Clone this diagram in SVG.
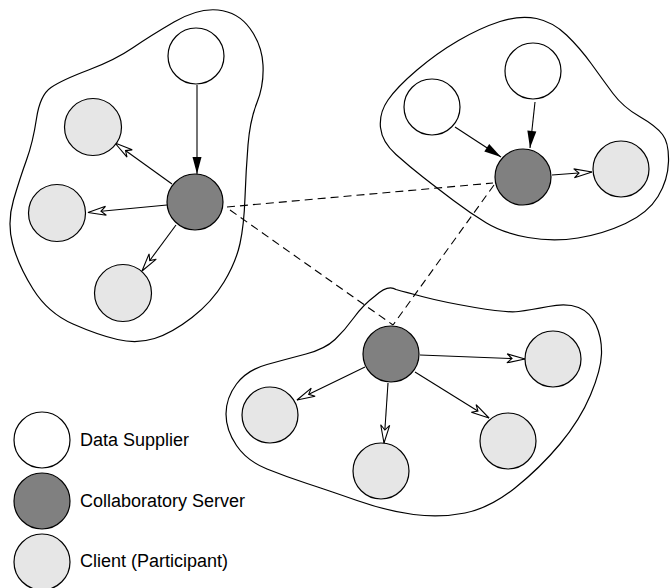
<svg xmlns="http://www.w3.org/2000/svg" width="670" height="588" viewBox="0 0 670 588">
<style>
.blob{fill:none;stroke:#000;stroke-width:1.2}
.sup{fill:#fff;stroke:#000;stroke-width:1.2}
.srv{fill:#808080;stroke:#000;stroke-width:1.2}
.cli{fill:#e6e6e6;stroke:#000;stroke-width:1.2}
.e{stroke:#000;stroke-width:1.1;fill:none}
.ef{marker-end:url(#fa)}
.eo{marker-end:url(#oa)}
.d{stroke:#000;stroke-width:1.1;stroke-dasharray:8,5;fill:none}
text{font-family:"Liberation Sans",Arial,sans-serif;font-size:18px;fill:#000}
</style>
<defs>
<marker id="fa" markerUnits="userSpaceOnUse" markerWidth="20" markerHeight="12" refX="17" refY="4.5" orient="auto" overflow="visible"><path d="M0,0 L17,4.5 L0,9 Z" fill="#000"/></marker>
<marker id="oa" markerUnits="userSpaceOnUse" markerWidth="20" markerHeight="12" refX="18" refY="4.5" orient="auto" overflow="visible"><path d="M0,0 L18,4.5 L0,9 L5,4.5 Z" fill="#fff" stroke="#000" stroke-width="1.1"/></marker>
</defs>

<g id="cluster-left"><path class="blob" d="M36.5,118.5 Q40,95 51,87.5 Q62,80 88.5,70 Q115,60 132.5,48 Q150,36 174,22 Q198,8 218,10 Q238,12 250,28.5 Q262,45 263,65 Q264,85 257,102.5 Q250,120 248,145 Q246,170 245,197.5 Q244,225 240,243.5 Q236,262 224,282 Q212,302 192,317.5 Q172,333 154.5,338.5 Q137,344 117.5,339.5 Q98,335 73,324 Q48,313 33,289 Q18,265 12.5,243.5 Q7,222 13.5,200 Q20,178 26.5,160 Q33,142 36.5,118.5 Z"/></g>
<g id="cluster-right"><path class="blob" d="M536.5,18.5 Q520,15 500,21.5 Q480,28 458.5,40.5 Q437,53 417,70 Q397,87 388,100 Q379,113 380.5,127.5 Q382,142 396,154.5 Q410,167 423.5,177.5 Q437,188 453.5,200.5 Q470,213 486.5,223 Q503,233 528,237.5 Q553,242 578,238 Q603,234 625.5,223.5 Q648,213 658,196.5 Q668,180 668.5,161.5 Q669,143 662.5,134.5 Q656,126 639.5,116.5 Q623,107 613,93.5 Q603,80 591.5,64 Q580,48 566.5,35 Q553,22 536.5,18.5 Z"/></g>
<g id="cluster-bottom"><path class="blob" d="M396,289.5 Q388,284 375,296 Q363,305 354,317.5 Q345,330 335,339.5 Q325,349 306,354 Q287,359 267,364.5 Q247,370 236.5,384 Q226,398 226,414 Q226,430 236.5,445.5 Q247,461 267,469 Q287,477 307,483.5 Q327,490 357,500.5 Q387,511 413.5,514.5 Q440,518 465,513 Q490,508 515,488 Q540,468 560,444 Q580,420 590.5,395 Q601,370 601.5,354 Q602,338 596,325 Q590,312 578.5,307.5 Q567,303 548.5,306.5 Q530,310 518.5,311.5 Q507,313 475,307.5 Q443,302 424,297 Q405,292 396,289.5 Z"/></g>

<g id="connectors">
<line class="d" x1="227" y1="207" x2="493" y2="183"/>
<line class="d" x1="230" y1="210" x2="393" y2="325"/>
<line class="d" x1="494" y1="185" x2="393" y2="325"/>
<line class="e ef" x1="197" y1="85" x2="197" y2="174"/>
<line class="e eo" x1="172" y1="184" x2="115" y2="143"/>
<line class="e eo" x1="167" y1="205" x2="88" y2="212.5"/>
<line class="e eo" x1="176" y1="225" x2="142" y2="271"/>
<line class="e ef" x1="455" y1="127" x2="501" y2="157"/>
<line class="e ef" x1="535" y1="102" x2="530" y2="148"/>
<line class="e eo" x1="552" y1="175" x2="592" y2="172"/>
<line class="e eo" x1="420" y1="355" x2="525" y2="359"/>
<line class="e eo" x1="365" y1="367" x2="297" y2="400"/>
<line class="e eo" x1="388" y1="383" x2="384" y2="443"/>
<line class="e eo" x1="415" y1="372" x2="489" y2="418"/>
</g>

<g id="supplier-l"><circle class="sup" cx="196" cy="56" r="28"/></g>
<g id="server-l"><circle class="srv" cx="195" cy="202" r="28"/></g>
<g id="client-l1"><circle class="cli" cx="93" cy="127" r="28.5"/></g>
<g id="client-l2"><circle class="cli" cx="57" cy="213" r="28.5"/></g>
<g id="client-l3"><circle class="cli" cx="123" cy="293" r="28.5"/></g>

<g id="supplier-r1"><circle class="sup" cx="432" cy="107" r="28"/></g>
<g id="supplier-r2"><circle class="sup" cx="533" cy="71" r="28"/></g>
<g id="server-r"><circle class="srv" cx="523" cy="177" r="28"/></g>
<g id="client-r1"><circle class="cli" cx="621" cy="169" r="28"/></g>

<g id="server-b"><circle class="srv" cx="391" cy="354" r="28"/></g>
<g id="client-b1"><circle class="cli" cx="270" cy="415" r="28"/></g>
<g id="client-b2"><circle class="cli" cx="381" cy="471" r="28"/></g>
<g id="client-b3"><circle class="cli" cx="508" cy="441" r="28"/></g>
<g id="client-b4"><circle class="cli" cx="553" cy="359" r="28"/></g>

<g id="legend-supplier"><circle class="sup" cx="42" cy="440" r="28"/><text x="80" y="446">Data Supplier</text></g>
<g id="legend-server"><circle class="srv" cx="42" cy="501" r="28"/><text x="80" y="507">Collaboratory Server</text></g>
<g id="legend-client"><circle class="cli" cx="42" cy="562" r="28"/><text x="80" y="567">Client (Participant)</text></g>
</svg>
